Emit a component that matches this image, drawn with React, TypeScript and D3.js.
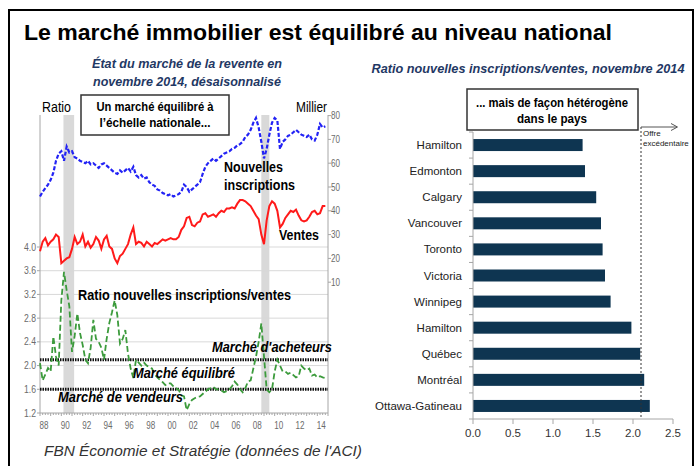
import React, { useRef, useEffect } from "react";
import * as d3 from "d3";

// quarterly readings, first point = Q1 1988
const startYear = 1988;

// nouvelles inscriptions, milliers (right axis)
const listings = [
  46, 48, 49.5, 51,
  53, 56, 61, 64,
  65, 61, 67, 64.5,
  65, 62.5, 62, 61,
  60.5, 60, 61, 59.5,
  60, 59, 58, 59.5,
  60, 59, 58, 57,
  56, 55.5, 57, 56,
  57, 58, 56.5, 58.5,
  55, 54, 55, 53.5,
  54, 52, 51, 50.5,
  49, 48.5, 47.5, 47,
  46.5, 47, 46, 46.5,
  47, 48, 51, 50,
  48, 49, 50, 51,
  52, 55.5, 58.5, 60,
  61, 62, 61, 62,
  63, 64, 64.5, 65,
  66, 66.5, 67.5, 68,
  69, 71, 72, 74,
  77, 79, 75, 69,
  62, 66, 72, 77,
  79, 78, 66, 69,
  70, 71.5, 72, 73,
  74, 73, 72, 71.5,
  71, 72, 70, 69.5,
  72, 76.5, 75, 75.5,
];

// ventes, milliers (right axis)
const sales = [
  23, 27, 28.5, 25.5,
  27, 28, 30, 29,
  18, 19, 20, 20.5,
  24, 29, 26, 27,
  30, 25, 27, 24.5,
  26, 29, 27.5, 24,
  28, 29.5, 25, 24,
  20, 18, 21, 22,
  24, 26, 30, 33,
  26, 27, 26.5, 25,
  27, 26, 25, 26.5,
  26, 27, 28, 27.5,
  28, 28.5, 28, 28,
  29, 32, 33.5, 37,
  37.5, 34, 33.5, 35,
  35.5, 38.5, 39, 37.5,
  38, 38.5, 37.5, 39,
  40, 39.5, 41, 41,
  41.5, 41, 43, 44.5,
  44.5, 44, 43, 42,
  40, 38, 36.5, 30,
  26, 36, 42, 44,
  43, 40, 33, 34.5,
  37, 38.5, 40, 39.5,
  40.5, 38, 36, 35.5,
  36, 37.5, 39.5, 40,
  38.5, 39, 42, 42,
];

// ratio nouvelles inscriptions / ventes (left axis)
const ratio = [
  2.04, 1.75, 1.85, 1.96,
  1.9, 2.49, 2.15, 2.0,
  3.1, 3.58, 3.27, 3.0,
  2.23, 2.5, 2.88, 2.55,
  2.35, 2.1, 2.04, 2.3,
  2.77, 2.45, 2.4, 2.3,
  2.1, 2.45, 2.72, 2.9,
  3.1, 2.85, 2.37, 2.45,
  2.6, 2.2, 1.95, 1.79,
  2.1, 2.05, 2.0, 2.05,
  2.0, 1.97, 1.95, 1.85,
  1.8, 1.76, 1.72, 1.67,
  1.7, 1.7, 1.65, 1.62,
  1.59, 1.5, 1.48, 1.25,
  1.35, 1.42, 1.45, 1.47,
  1.48, 1.52, 1.56, 1.6,
  1.62, 1.64, 1.6, 1.6,
  1.58, 1.55, 1.57, 1.6,
  1.65, 1.73, 1.68, 1.6,
  1.55, 1.62, 1.73, 1.75,
  1.95, 2.15, 2.4, 2.71,
  2.15, 1.6, 1.55, 1.6,
  1.9, 2.1, 2.0, 1.9,
  1.9, 1.86, 1.88, 1.84,
  1.8, 1.82, 2.0, 1.95,
  1.92, 1.95, 1.83, 1.85,
  1.8, 1.82, 1.8, 1.79,
];

const recessions = [
  [1990.2, 1991.2],
  [2008.75, 2009.5],
];
const yearTicks = [1988, 1990, 1992, 1994, 1996, 1998, 2000, 2002, 2004, 2006, 2008, 2010, 2012, 2014];
const ratioTicks = [1.2, 1.6, 2.0, 2.4, 2.8, 3.2, 3.6, 4.0];
const thousandTicks = [10, 20, 30, 40, 50, 60, 70, 80];
const buyersLevel = 2.1;
const sellersLevel = 1.6;

const cities = [
  "Hamilton", "Edmonton", "Calgary", "Vancouver", "Toronto", "Victoria",
  "Winnipeg", "Hamilton ", "Québec", "Montréal", "Ottawa-Gatineau",
];
const cityRatios = [1.37, 1.4, 1.54, 1.6, 1.62, 1.65, 1.72, 1.98, 2.09, 2.14, 2.21];
const barTicks = [0, 0.5, 1, 1.5, 2, 2.5];

const FONT = "Liberation Sans, Arial, sans-serif";

const App: React.FC = () => {
  const chartRef = useRef<SVGSVGElement | null>(null);

  useEffect(() => {
    if (!chartRef.current) return;
    const svg = d3.select(chartRef.current);
    svg.selectAll("*").remove();
    svg.attr("font-family", FONT);

    const text = (
      g: any, x: number, y: number, s: string,
      o: { size: number; weight?: string; style?: string; anchor?: string; fill?: string; len?: number }
    ) => {
      const t = g.append("text")
        .attr("x", x).attr("y", y)
        .attr("font-size", o.size)
        .attr("font-weight", o.weight || "normal")
        .attr("font-style", o.style || "normal")
        .attr("text-anchor", o.anchor || "start")
        .attr("fill", o.fill || "#000")
        .text(s);
      if (o.len) t.attr("textLength", o.len).attr("lengthAdjust", "spacingAndGlyphs");
      return t;
    };

    // frame
    svg.append("path").attr("d", "M9,466 V10 H693 V466")
      .attr("fill", "none").attr("stroke", "#000").attr("stroke-width", 2);

    text(svg, 24, 40, "Le marché immobilier est équilibré au niveau national", { size: 22, weight: "bold", len: 588 });

    // ---------- left chart ----------
    const left = svg.append("g");
    const x = d3.scaleLinear().domain([1988, 2015]).range([40, 328]);
    const yR = d3.scaleLinear().domain([1.2, 4.0]).range([413, 247]);
    const yK = d3.scaleLinear().domain([0, 80]).range([306, 115.6]);
    const top = 115;
    const bottom = 413;

    const navy = "#1F3864";
    text(left, 187, 68, "État du marché de la revente en", { size: 13, weight: "bold", style: "italic", anchor: "middle", fill: navy, len: 190 });
    text(left, 187, 86, "novembre 2014, désaisonnalisé", { size: 13, weight: "bold", style: "italic", anchor: "middle", fill: navy, len: 188 });

    left.selectAll("rect.rec").data(recessions).join("rect")
      .attr("x", (d) => x(d[0])).attr("width", (d) => x(d[1]) - x(d[0]))
      .attr("y", top).attr("height", bottom - top).attr("fill", "#D9D9D9");

    left.selectAll("line.grid").data(ratioTicks.slice(1)).join("line")
      .attr("x1", x(1988)).attr("x2", x(2015))
      .attr("y1", (d) => yR(d)).attr("y2", (d) => yR(d))
      .attr("stroke", "#D9D9D9").attr("stroke-width", 1);

    // axes
    left.append("line").attr("x1", 40).attr("x2", 40).attr("y1", top).attr("y2", bottom).attr("stroke", "#A6A6A6");
    left.append("line").attr("x1", 328).attr("x2", 328).attr("y1", top).attr("y2", bottom).attr("stroke", "#A6A6A6");
    left.append("line").attr("x1", 40).attr("x2", 328).attr("y1", bottom).attr("y2", bottom).attr("stroke", "#A6A6A6");

    ratioTicks.forEach((t) => {
      left.append("line").attr("x1", 37).attr("x2", 40).attr("y1", yR(t)).attr("y2", yR(t)).attr("stroke", "#A6A6A6");
      text(left, 36, yR(t) + 3.5, d3.format(".1f")(t), { size: 10, anchor: "end", fill: "#6b6b6b", len: 12 });
    });
    thousandTicks.forEach((t) => {
      left.append("line").attr("x1", 328).attr("x2", 331).attr("y1", yK(t)).attr("y2", yK(t)).attr("stroke", "#A6A6A6");
      text(left, 331, yK(t) + 3.5, String(t), { size: 10, fill: "#6b6b6b", len: 9 });
    });
    d3.range(0, 27 * 4 + 1).forEach((i) => {
      const xx = x(startYear + i / 4);
      left.append("line").attr("x1", xx).attr("x2", xx).attr("y1", bottom).attr("y2", bottom + (i % 4 === 0 ? 3 : 2)).attr("stroke", "#A6A6A6");
    });
    yearTicks.forEach((yr) => {
      text(left, x(yr) + 4, 429, String(yr).slice(2), { size: 10, anchor: "middle", fill: "#6b6b6b", len: 9 });
    });

    // level lines
    [buyersLevel, sellersLevel].forEach((lv) => {
      left.append("line").attr("x1", 40).attr("x2", 328).attr("y1", yR(lv)).attr("y2", yR(lv))
        .attr("stroke", "#111").attr("stroke-width", 3).attr("stroke-dasharray", "1.5,1");
    });

    const dateOf = (i: number) => startYear + i / 4;
    const lineK = d3.line<number>().x((_, i) => x(dateOf(i))).y((d) => yK(d));
    const lineR = d3.line<number>().x((_, i) => x(dateOf(i))).y((d) => yR(d));

    left.append("path").datum(listings).attr("d", lineK).attr("fill", "none")
      .attr("stroke", "#2323F5").attr("stroke-width", 2.2).attr("stroke-dasharray", "4,2");
    left.append("path").datum(sales).attr("d", lineK).attr("fill", "none")
      .attr("stroke", "#FF1A1A").attr("stroke-width", 2);
    left.append("path").datum(ratio).attr("d", lineR).attr("fill", "none")
      .attr("stroke", "#3C9B3C").attr("stroke-width", 1.8).attr("stroke-dasharray", "6,3");

    text(left, 42, 112, "Ratio", { size: 14, len: 29 });
    text(left, 327, 112, "Millier", { size: 14, anchor: "end", len: 31 });

    left.append("rect").attr("x", 81).attr("y", 95).attr("width", 148).attr("height", 40)
      .attr("fill", "#fff").attr("stroke", "#333").attr("stroke-width", 1.5);
    text(left, 155, 111, "Un marché équilibré à", { size: 12.5, weight: "bold", anchor: "middle", len: 117 });
    text(left, 155, 127, "l’échelle nationale...", { size: 12.5, weight: "bold", anchor: "middle", len: 111 });

    text(left, 224, 172, "Nouvelles", { size: 15, weight: "bold", len: 59 });
    text(left, 224, 190, "inscriptions", { size: 15, weight: "bold", len: 71 });
    text(left, 279, 240, "Ventes", { size: 15, weight: "bold", len: 40 });
    text(left, 78, 300, "Ratio nouvelles inscriptions/ventes", { size: 15, weight: "bold", len: 213 });
    text(left, 212, 352, "Marché d'acheteurs", { size: 14, weight: "bold", style: "italic", len: 120 });
    text(left, 133, 378, "Marché équilibré", { size: 14, weight: "bold", style: "italic", len: 102 });
    text(left, 58, 402, "Marché de vendeurs", { size: 14, weight: "bold", style: "italic", len: 125 });

    text(svg, 44, 456, "FBN Économie et Stratégie (données de l'ACI)", { size: 14, style: "italic", fill: "#333", len: 318 });

    // ---------- right chart ----------
    const right = svg.append("g");
    text(right, 528, 73, "Ratio nouvelles inscriptions/ventes, novembre 2014", { size: 13, weight: "bold", style: "italic", anchor: "middle", fill: navy, len: 313 });

    const bx = d3.scaleLinear().domain([0, 2.5]).range([473, 673]);
    const by = d3.scaleBand<string>().domain(cities).range([132, 419]).paddingInner(0.54).paddingOuter(0.27);

    right.selectAll("rect.bar").data(cities).join("rect")
      .attr("x", bx(0)).attr("y", (d) => by(d) as number)
      .attr("width", (_, i) => bx(cityRatios[i]) - bx(0)).attr("height", by.bandwidth())
      .attr("fill", "#0E3551");

    right.append("line").attr("x1", bx(0)).attr("x2", bx(0)).attr("y1", 132).attr("y2", 419).attr("stroke", "#A6A6A6");
    right.append("line").attr("x1", bx(0)).attr("x2", bx(2.5)).attr("y1", 419).attr("y2", 419).attr("stroke", "#A6A6A6");
    const step = by.step();
    d3.range(cities.length + 1).forEach((k) => {
      const yy = 132 + k * step - (k === cities.length ? 0 : 0);
      right.append("line").attr("x1", bx(0) - 4).attr("x2", bx(0)).attr("y1", yy).attr("y2", yy).attr("stroke", "#A6A6A6");
    });
    barTicks.forEach((t) => {
      right.append("line").attr("x1", bx(t)).attr("x2", bx(t)).attr("y1", 419).attr("y2", 424).attr("stroke", "#A6A6A6");
      text(right, bx(t), 437, d3.format(".1f")(t), { size: 11.5, anchor: "middle", fill: "#333" });
    });
    cities.forEach((c) => {
      text(right, 462, (by(c) as number) + by.bandwidth() / 2 + 4, c.trim(), { size: 11.5, anchor: "end", fill: "#222" });
    });

    // excess supply marker
    const xl = bx(buyersLevel);
    right.append("line").attr("x1", xl).attr("x2", xl).attr("y1", 127).attr("y2", 419)
      .attr("stroke", "#333").attr("stroke-width", 1).attr("stroke-dasharray", "2,2");
    right.append("line").attr("x1", xl).attr("x2", 677).attr("y1", 127).attr("y2", 127).attr("stroke", "#555");
    right.append("path").attr("d", `M671,123.5 L677.5,127 L671,130.5`).attr("fill", "none").attr("stroke", "#555");
    text(right, xl + 2, 136, "Offre", { size: 8, fill: "#222" });
    text(right, xl + 2, 146, "excédentaire", { size: 8, fill: "#222" });

    right.append("rect").attr("x", 467).attr("y", 89).attr("width", 171).attr("height", 41)
      .attr("fill", "#fff").attr("stroke", "#333").attr("stroke-width", 1.5);
    text(right, 552, 107, "... mais de façon hétérogène", { size: 12.5, weight: "bold", anchor: "middle", len: 152 });
    text(right, 552, 123, "dans le pays", { size: 12.5, weight: "bold", anchor: "middle", len: 70 });
  }, []);

  return (
    <svg
      ref={chartRef}
      width={700}
      height={466}
      style={{ position: "absolute", left: 0, top: 0, background: "#fff" }}
    />
  );
};

export default App;
